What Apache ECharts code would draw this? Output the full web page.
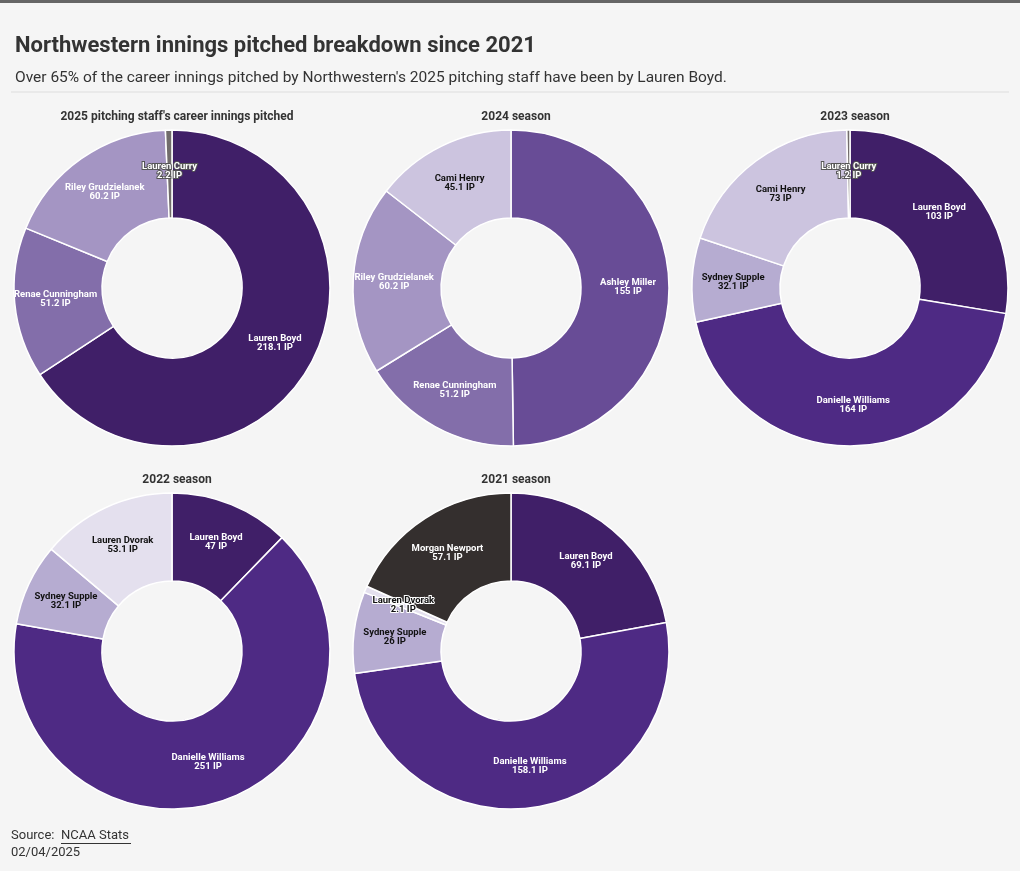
<!DOCTYPE html>
<html>
<head>
<meta charset="utf-8">
<script src="https://cdn.jsdelivr.net/npm/echarts@6/dist/echarts.min.js"></script>
<style>
html,body{margin:0;padding:0;background:#f5f5f5;}
#chart{width:1020px;height:871px;}
</style>
</head>
<body>
<div id="chart"></div>
<script>
// ---- Data ----
const chartTitles = ["2025 pitching staff's career innings pitched", "2024 season", "2023 season", "2022 season", "2021 season"];

const careerNames = ["Lauren Boyd", "Renae Cunningham", "Riley Grudzielanek", "Lauren Curry"];
const careerIP = [218.1, 51.2, 60.2, 2.2];

const s2024Names = ["Ashley Miller", "Renae Cunningham", "Riley Grudzielanek", "Cami Henry"];
const s2024IP = [155, 51.2, 60.2, 45.1];

const s2023Names = ["Lauren Boyd", "Danielle Williams", "Sydney Supple", "Cami Henry", "Lauren Curry"];
const s2023IP = [103, 164, 32.1, 73, 1.2];

const s2022Names = ["Lauren Boyd", "Danielle Williams", "Sydney Supple", "Lauren Dvorak"];
const s2022IP = [47, 251, 32.1, 53.1];

const s2021Names = ["Lauren Boyd", "Danielle Williams", "Sydney Supple", "Lauren Dvorak", "Morgan Newport"];
const s2021IP = [69.1, 158.1, 26, 2.1, 57.1];

// ---- Styles ----
const playerColors = {
  "Lauren Boyd": "#401F68",
  "Danielle Williams": "#4E2A84",
  "Ashley Miller": "#684C96",
  "Renae Cunningham": "#836EAA",
  "Riley Grudzielanek": "#A495C3",
  "Cami Henry": "#CCC4DF",
  "Sydney Supple": "#B6ACD1",
  "Lauren Dvorak": "#E4E0EE",
  "Lauren Curry": "#716C6B",
  "Morgan Newport": "#342F2E"
};
const darkLabel = new Set(["Cami Henry", "Sydney Supple", "Lauren Dvorak"]);
const haloLabel = new Set(["Lauren Curry"]);

const FONT = "Roboto, 'Noto Sans', sans-serif";

const layouts = [
  {cx: 172, cy: 288, ty: 106},
  {cx: 511, cy: 288, ty: 106},
  {cx: 850, cy: 288, ty: 106},
  {cx: 172, cy: 651, ty: 469},
  {cx: 511, cy: 651, ty: 469}
];
const datasets = [
  [careerNames, careerIP],
  [s2024Names, s2024IP],
  [s2023Names, s2023IP],
  [s2022Names, s2022IP],
  [s2021Names, s2021IP]
];

function fmt(v){ return String(v); }

const series = datasets.map(([names, vals], i) => {
  const L = layouts[i];
  return {
    type: 'pie',
    center: [L.cx, L.cy],
    radius: [70, 158],
    startAngle: 90,
    clockwise: true,
    silent: true,
    animation: false,
    avoidLabelOverlap: false,
    labelLine: {show: false},
    itemStyle: {borderColor: '#ffffff', borderWidth: 1.5},
    data: names.map((n, k) => {
      let lbl = {color: '#ffffff'};
      if (darkLabel.has(n)) {
        lbl = {color: '#111111'};
        if (vals[k] < 5) lbl = {color: '#111111', textBorderColor: '#ffffff', textBorderWidth: 2};
      }
      if (haloLabel.has(n)) lbl = {color: '#ffffff', textBorderColor: '#555555', textBorderWidth: 2};
      return {
        name: n,
        value: vals[k],
        itemStyle: {color: playerColors[n]},
        label: lbl
      };
    }),
    label: {
      show: true,
      position: 'inside',
      fontFamily: FONT,
      fontSize: 9.5,
      fontWeight: 'bold',
      lineHeight: 9,
      align: 'center',
      formatter: p => p.name + '\n' + fmt(p.value) + ' IP'
    }
  };
});

const titles = [
  {text: 'Northwestern innings pitched breakdown since 2021', left: 10, top: 30,
   textStyle: {fontFamily: FONT, fontSize: 22, fontWeight: 'bold', color: '#333333'}},
  {text: "Over 65% of the career innings pitched by Northwestern's 2025 pitching staff have been by Lauren Boyd.", left: 10, top: 65,
   textStyle: {fontFamily: FONT, fontSize: 15.5, fontWeight: 'normal', color: '#333333'}}
].concat(chartTitles.map((t, i) => ({
  text: t,
  left: layouts[i].cx,
  top: layouts[i].ty,
  textAlign: 'center',
  textStyle: {fontFamily: FONT, fontSize: 12, fontWeight: 'bold', color: '#333333'}
})));

const option = {
  backgroundColor: '#f5f5f5',
  animation: false,
  title: titles,
  graphic: [
    {type: 'rect', shape: {x: 0, y: 0, width: 1020, height: 3}, style: {fill: '#666666'}},
    {type: 'line', shape: {x1: 11, y1: 92, x2: 1009, y2: 92}, style: {stroke: '#dddddd', lineWidth: 1}},
    {type: 'text', left: 11, top: 829, style: {text: 'Source:', fontFamily: FONT, fontSize: 13, fill: '#333333'}},
    {type: 'text', left: 61, top: 829, style: {text: 'NCAA Stats', fontFamily: FONT, fontSize: 13, fill: '#333333'}},
    {type: 'line', shape: {x1: 61, y1: 843.5, x2: 131, y2: 843.5}, style: {stroke: '#333333', lineWidth: 1}},
    {type: 'text', left: 11, top: 846, style: {text: '02/04/2025', fontFamily: FONT, fontSize: 13, fill: '#333333'}}
  ],
  series: series
};

const chart = echarts.init(document.getElementById('chart'), null, {renderer: 'canvas'});
chart.setOption(option);
</script>
</body>
</html>
